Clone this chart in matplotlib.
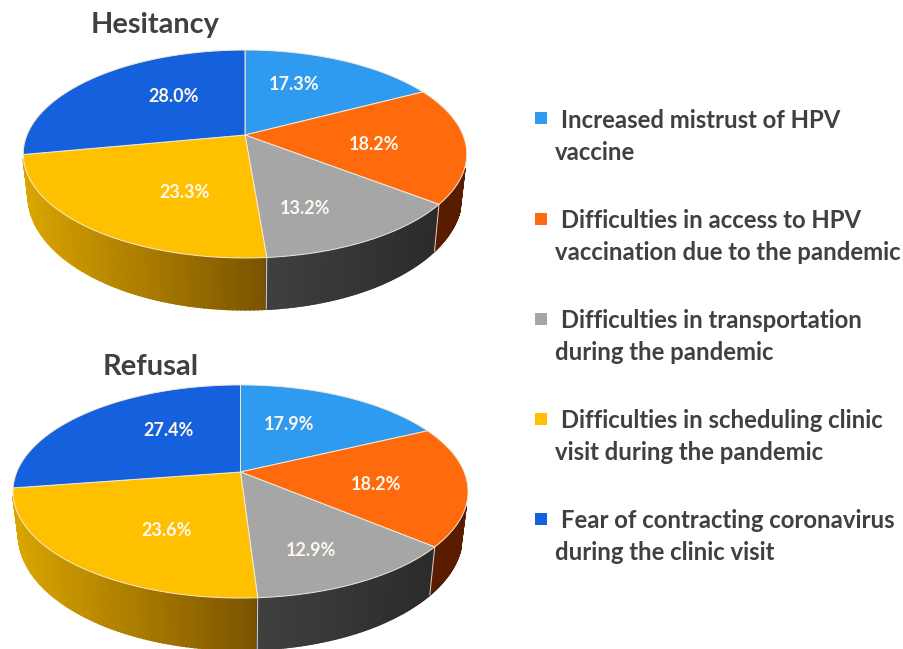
import numpy as np
import matplotlib
matplotlib.use('Agg')
import matplotlib.pyplot as plt
from matplotlib.colors import to_rgb

plt.rcParams['font.family'] = ['Lato', 'DejaVu Sans']

# Werte aus dem Bild
hesitancy = [17.3, 18.2, 13.2, 23.3, 28.0]
refusal = [17.9, 18.2, 12.9, 23.6, 27.4]
legend_lines = [
    ['Increased mistrust of HPV', 'vaccine'],
    ['Difficulties in access to HPV', 'vaccination due to the pandemic'],
    ['Difficulties in transportation', 'during the pandemic'],
    ['Difficulties in scheduling clinic', 'visit during the pandemic'],
    ['Fear of contracting coronavirus', 'during the clinic visit'],
]

colors = ['#2e9bf0', '#ff6a0d', '#a6a6a6', '#ffc000', '#1560dc']
# Seitenwand: Farbe links / rechts, None = nicht sichtbar
wall_colors = [None, ('#5a1c00', '#5a1c00'), ('#404040', '#2b2b2b'),
               ('#dba500', '#7a5300'), None]
text_gray = '#404040'
k = 0.1827  # Perspektive


def project(theta, cx, cy, sx, sy):
    # Kreis -> Ellipse, theta im Uhrzeigersinn von oben
    u, v = np.sin(theta), np.cos(theta)
    w = 1 + k * v
    return cx + sx * u / w, cy - sy * v / w


def draw_pie(ax, values, top, bottom, label_pos):
    edges = np.radians(np.cumsum([0] + list(values)) / np.sum(values) * 360)
    wall_from, wall_to = np.radians(108), np.radians(257)

    # Seitenwand
    for i in range(len(values)):
        if wall_colors[i] is None:
            continue
        a = max(edges[i], wall_from)
        b = min(edges[i + 1], wall_to)
        t = np.linspace(a, b, 90)
        x1, y1 = project(t, *top)
        x2, y2 = project(t, *bottom)
        c_l, c_r = np.array(to_rgb(wall_colors[i][0])), np.array(to_rgb(wall_colors[i][1]))
        xmin, xmax = x1.min(), x1.max()
        for j in range(len(t) - 1):
            f = (x1[j] - xmin) / (xmax - xmin)
            c = c_l * (1 - f) + c_r * f
            ax.fill([x1[j], x1[j + 1], x2[j + 1], x2[j]],
                    [y1[j], y1[j + 1], y2[j + 1], y2[j]],
                    color=c, lw=1.4, zorder=1 + j / 1000)
        # helle Kante zwischen den Stuecken
        if edges[i + 1] < wall_to:
            ax.plot([x1[-1], x2[-1]], [y1[-1], y2[-1]], color='#d8d8d8', lw=0.7, zorder=2)

    # Deckel
    for i in range(len(values)):
        t = np.linspace(edges[i], edges[i + 1], 120)
        x, y = project(t, *top)
        ax.fill(np.r_[top[0], x], np.r_[top[1], y], facecolor=colors[i],
                edgecolor='#f2ead8', lw=0.7, zorder=3)

    for v, (x, y) in zip(values, label_pos):
        ax.text(x, y, f'{v:.1f}%', color='#fff8ee', fontsize=13, fontweight='bold',
                ha='center', va='center', zorder=4)


fig = plt.figure(figsize=(9.04, 6.49), dpi=100)
ax = fig.add_axes([0, 0, 1, 1])
ax.set_xlim(0, 904)
ax.set_ylim(649, 0)
ax.axis('off')

draw_pie(ax, hesitancy, (245, 135, 218, 100.5), (245, 175, 213, 110),
         [(294, 85), (374, 145), (305, 208), (185, 193), (174, 97)])
draw_pie(ax, refusal, (240.5, 472, 223.7, 103), (240.5, 514, 218, 111),
         [(289, 424), (376, 485), (311, 550), (167, 530), (169, 431)])

ax.text(155, 25, 'Hesitancy', color=text_gray, fontsize=20.8, fontweight='bold', ha='center', va='center')
ax.text(151, 367, 'Refusal', color=text_gray, fontsize=21, fontweight='bold', ha='center', va='center')

# Legende
first_y = [120, 221, 321, 421, 521]
second_y = [152, 252, 353, 453, 553]
marker_y = [118, 219, 319, 419, 519]
for i, lines in enumerate(legend_lines):
    ax.scatter(541, marker_y[i], marker='s', s=75, color=colors[i], linewidths=0)
    ax.text(561, first_y[i], lines[0], color=text_gray, fontsize=17.2, fontweight='bold', va='center')
    ax.text(555, second_y[i], lines[1], color=text_gray, fontsize=17.2, fontweight='bold', va='center')

fig.savefig('out.png', dpi=100)
